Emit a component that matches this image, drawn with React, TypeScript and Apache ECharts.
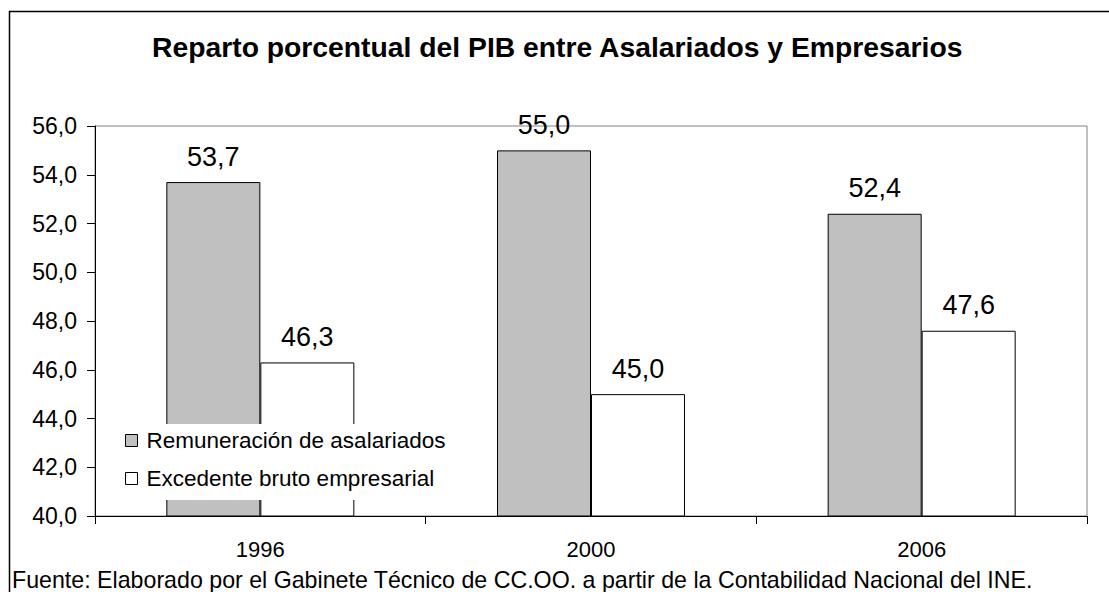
import React, { useEffect, useRef } from "react";
import * as echarts from "echarts";

const titleText = "Reparto porcentual del PIB entre Asalariados y Empresarios";
const footerText = "Fuente: Elaborado por el Gabinete Técnico de CC.OO. a partir de la Contabilidad Nacional del INE.";
const years = ["1996", "2000", "2006"];
const seriesNames = ["Remuneración de asalariados", "Excedente bruto empresarial"];
const remuneracion = [53.7, 55.0, 52.4];
const excedente = [46.3, 45.0, 47.6];
const yMin = 40;
const yMax = 56;
const yStep = 2;

const fmt = (v: number) => v.toFixed(1).replace(".", ",");
const FONT = "Arial, 'Liberation Sans', sans-serif";

export default function App() {
  const ref = useRef<HTMLDivElement>(null);
  useEffect(() => {
    document.body.style.margin = "0";
    const chart = echarts.init(ref.current!, null, { renderer: "svg" });
    const labelCfg = {
      show: true,
      position: "top",
      distance: 12,
      color: "#000",
      fontSize: 27,
      fontFamily: FONT,
      formatter: (p: any) => fmt(p.value),
    };
    chart.setOption({
      animation: false,
      backgroundColor: "#fff",
      textStyle: { fontFamily: FONT },
      title: {
        text: titleText,
        left: 152,
        top: 33,
        padding: 0,
        textStyle: { fontSize: 28.3, fontWeight: "bold", color: "#000", fontFamily: FONT },
      },
      grid: {
        left: 95,
        top: 126,
        width: 992,
        height: 390,
        show: true,
        borderColor: "#808080",
        borderWidth: 1,
        backgroundColor: "transparent",
      },
      legend: {
        orient: "vertical",
        left: 120,
        top: 424,
        padding: [5, 8, 10, 5],
        backgroundColor: "#fff",
        itemWidth: 12,
        itemHeight: 12,
        itemGap: 15,
        icon: "rect",
        itemStyle: { borderColor: "#000", borderWidth: 1 },
        textStyle: { fontSize: 22.5, lineHeight: 22, color: "#000", fontFamily: FONT, padding: [0, 0, 0, 4] },
        data: seriesNames,
      },
      xAxis: {
        type: "category",
        data: years,
        axisLine: { lineStyle: { color: "#000", width: 1 } },
        axisTick: { show: true, length: 8, lineStyle: { color: "#000" } },
        axisLabel: { color: "#000", fontSize: 22, margin: 22, fontFamily: FONT },
        splitLine: { show: false },
      },
      yAxis: {
        type: "value",
        min: yMin,
        max: yMax,
        interval: yStep,
        axisLine: { show: true, lineStyle: { color: "#000", width: 1 } },
        axisTick: { show: true, length: 8, lineStyle: { color: "#000" } },
        axisLabel: { color: "#000", fontSize: 23, margin: 18, fontFamily: FONT, formatter: (v: number) => fmt(v) },
        splitLine: { show: false },
      },
      series: [
        {
          name: seriesNames[0],
          type: "bar",
          data: remuneracion,
          barWidth: 94,
          barGap: "0%",
          itemStyle: { color: "#C0C0C0", borderColor: "#000", borderWidth: 1 },
          label: labelCfg,
        },
        {
          name: seriesNames[1],
          type: "bar",
          data: excedente,
          barWidth: 94,
          barGap: "0%",
          itemStyle: { color: "#FFFFFF", borderColor: "#000", borderWidth: 1 },
          label: labelCfg,
        },
      ],
      graphic: [
        {
          type: "rect",
          shape: { x: 9.5, y: 11.5, width: 1300, height: 800 },
          style: { fill: "none", stroke: "#000", lineWidth: 1.5 },
          silent: true,
        },
        {
          type: "text",
          left: 12,
          top: 568,
          style: { text: footerText, fontSize: 23.2, fill: "#000", fontFamily: FONT },
        },
      ],
    });
    return () => chart.dispose();
  }, []);
  return <div ref={ref} style={{ position: "fixed", left: 0, top: 0, width: 1109, height: 592 }} />;
}
